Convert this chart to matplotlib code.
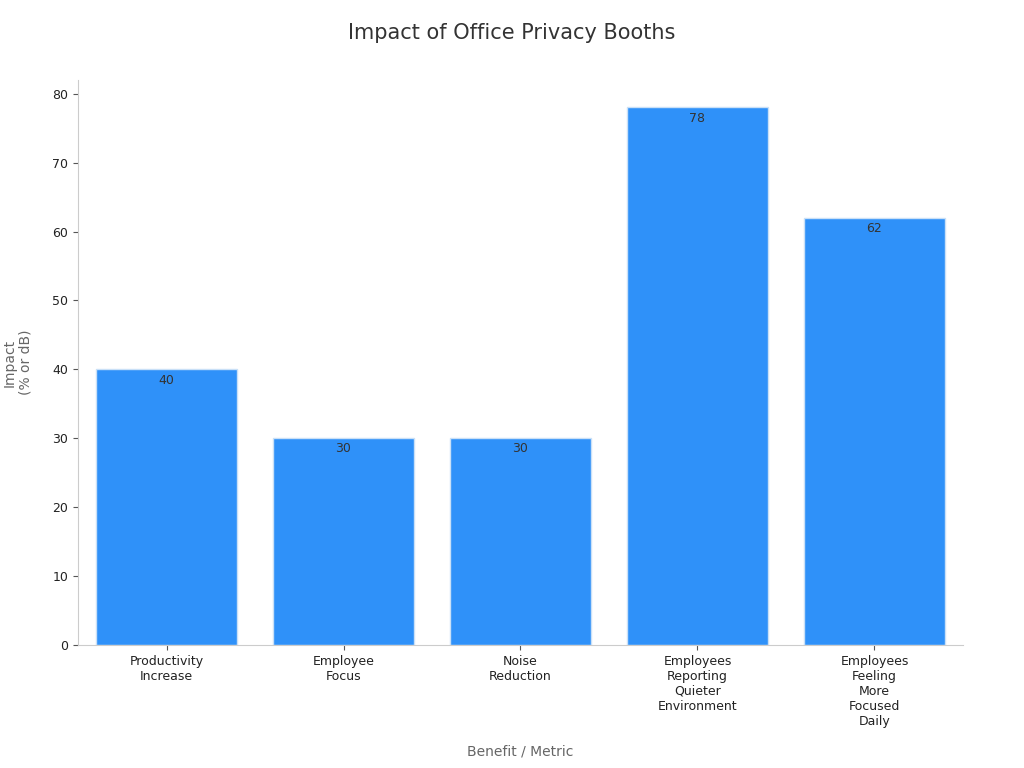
import matplotlib
matplotlib.use("Agg")
import matplotlib.pyplot as plt

CATEGORIES = ["Productivity\nIncrease", "Employee\nFocus", "Noise\nReduction",
              "Employees\nReporting\nQuieter\nEnvironment",
              "Employees\nFeeling\nMore\nFocused\nDaily"]
VALUES = [40, 30, 30, 78, 62]
Y_TICKS = [0, 10, 20, 30, 40, 50, 60, 70, 80]

fig = plt.figure(figsize=(10.24, 7.68), dpi=100)
ax = fig.add_axes([0.0762, 0.160, 0.8642, 0.736])
x = range(len(CATEGORIES))
bars = ax.bar(x, VALUES, width=0.8, color="#2F91F9", edgecolor="#C9E0F7", linewidth=1)
for b, v in zip(bars, VALUES):
    ax.text(b.get_x() + b.get_width() / 2, v - 0.6, str(v), ha="center", va="top",
            fontsize=9, color="#333333")

ax.set_xlim(-0.5, 4.5)
ax.set_ylim(0, 82)
ax.set_yticks(Y_TICKS)
ax.set_xticks(list(x))
ax.set_xticklabels(CATEGORIES, fontsize=9, color="#222222")
ax.tick_params(axis="y", labelsize=9, colors="#222222")
ax.tick_params(color="#555555")
for s in ["top", "right"]:
    ax.spines[s].set_visible(False)
for s in ["left", "bottom"]:
    ax.spines[s].set_color("#CCCCCC")
ax.set_xlabel("Benefit / Metric", fontsize=10, color="#666666", labelpad=12)
ax.set_ylabel("Impact\n(% or dB)", fontsize=10, color="#666666", labelpad=14)
fig.suptitle("Impact of Office Privacy Booths", fontsize=15, color="#333333", y=0.97)
fig.savefig("out.png", dpi=100)
